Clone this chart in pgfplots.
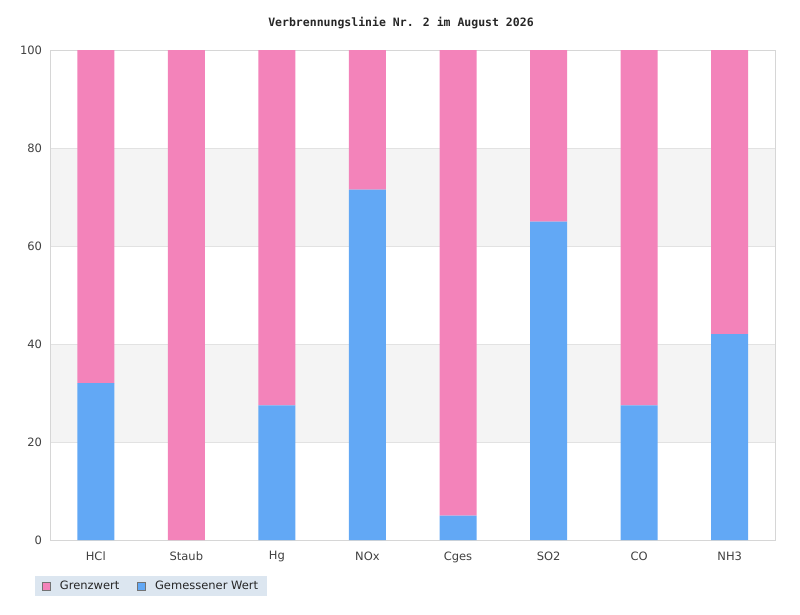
\documentclass[border=0pt]{standalone}
\usepackage{pgfplots}
\pgfplotsset{compat=1.18}
\usepackage{fontspec}
\setmainfont{DejaVu Sans}
\newfontfamily\titlefont{DejaVu Sans Mono}
\definecolor{pinkbar}{RGB}{243,131,186}
\definecolor{bluebar}{RGB}{98,168,245}
\definecolor{band}{RGB}{244,244,244}
\definecolor{gridc}{RGB}{226,226,226}
\definecolor{axisc}{RGB}{214,214,214}
\definecolor{legbg}{RGB}{220,230,240}
\definecolor{textc}{RGB}{64,64,64}
\begin{document}
\begin{tikzpicture}
\path[use as bounding box] (0bp,0bp) rectangle (800bp,-615bp);
\fill[band] (50bp,-442bp) rectangle (775bp,-344bp);
\fill[band] (50bp,-246bp) rectangle (775bp,-148bp);
\node[font=\titlefont\bfseries\fontsize{11.5bp}{13bp}\selectfont, text=black!85] at (401bp,-23bp) {Verbrennungslinie Nr. 2 im August 2026};
\begin{axis}[
  at={(50.5bp,-540bp)}, anchor=south west,
  width=724.5bp, height=490bp, scale only axis,
  ybar stacked, bar width=37bp,
  xmin=-0.5, xmax=7.5, ymin=0, ymax=100,
  xtick={0,...,7},
  xticklabels={HCl,Staub,Hg,NOx,Cges,SO2,CO,NH3},
  ytick={0,20,...,100},
  /pgf/number format/assume math mode=true,
  ymajorgrids, grid style={draw=gridc, line width=0.8bp},
  axis line style={draw=axisc, line width=1bp},
  major tick length=0pt, tick style={draw=none},
  tick label style={font=\fontsize{11.5bp}{13bp}\selectfont, text=textc},
  yticklabel style={xshift=-5bp},
  xticklabel style={yshift=-8bp},
  reverse legend,
  legend columns=-1,
  legend style={at={(-0.0214,-0.0735)}, anchor=north west, fill=legbg, draw=none,
    font=\fontsize{11.5bp}{13bp}\selectfont, text=black!85,
    inner xsep=7bp, inner ysep=3bp,
    /tikz/every odd column/.append style={column sep=7bp},
    /tikz/every even column/.append style={column sep=16bp}},
]
\addplot[fill=bluebar, draw=none,
  legend image code/.code={\draw[fill=bluebar, draw=gray!90!black, line width=0.7bp] (0bp,-4bp) rectangle (8bp,4bp);}]
  coordinates {(0,32) (1,0) (2,27.5) (3,71.5) (4,5) (5,65) (6,27.5) (7,42)};
\addlegendentry{Gemessener Wert}
\addplot[fill=pinkbar, draw=none,
  legend image code/.code={\draw[fill=pinkbar, draw=gray!90!black, line width=0.7bp] (0bp,-4bp) rectangle (8bp,4bp);}]
  coordinates {(0,68) (1,100) (2,72.5) (3,28.5) (4,95) (5,35) (6,72.5) (7,58)};
\addlegendentry{Grenzwert}
\end{axis}
\end{tikzpicture}
\end{document}
